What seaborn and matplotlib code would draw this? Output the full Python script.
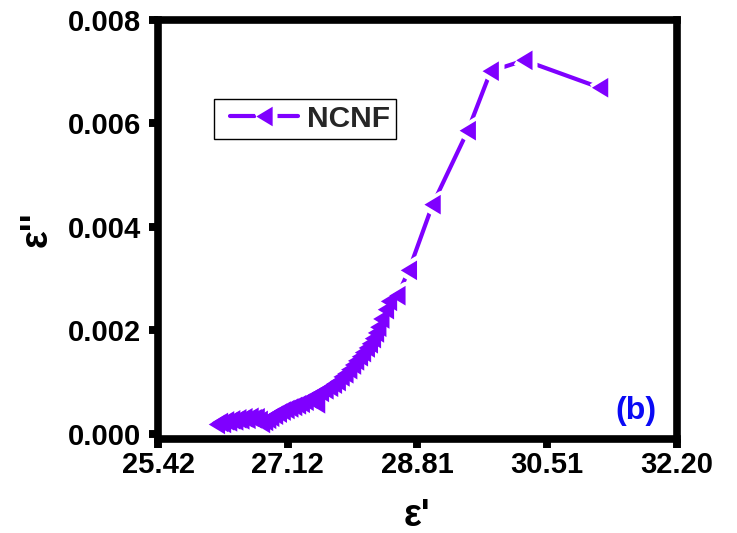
import numpy as np
import pandas as pd
import matplotlib
matplotlib.use("Agg")
import matplotlib.pyplot as plt
from matplotlib.lines import Line2D
from matplotlib.markers import MarkerStyle
from matplotlib.legend_handler import HandlerTuple, HandlerLine2D
import seaborn as sns

# Dielectric loss plot: imaginary part (eps'') against real part (eps') for NCNF
eps_real = [
    26.19, 26.23, 26.27, 26.31, 26.35, 26.39, 26.43, 26.47, 26.51, 26.55,
    26.59, 26.63, 26.67, 26.71, 26.75, 26.78, 26.82, 26.86, 26.90, 26.95,
    27.00, 27.05, 27.10, 27.15, 27.20, 27.25, 27.30, 27.35, 27.40, 27.45,
    27.50, 27.55, 27.61, 27.67, 27.72, 27.77, 27.82, 27.87, 27.92, 27.97,
    28.01, 28.06, 28.10, 28.15, 28.19, 28.23, 28.27, 28.30, 28.34, 28.40,
    28.44, 28.55, 28.70, 29.01, 29.47, 29.77, 30.21, 31.20,
]
eps_imag = [
    0.00018, 0.00022, 0.00020, 0.00025, 0.00023, 0.00027, 0.00025, 0.00029, 0.00027, 0.00031,
    0.00028, 0.00032, 0.00029, 0.00031, 0.00026, 0.00020, 0.00024, 0.00028, 0.00032, 0.00036,
    0.00040, 0.00044, 0.00047, 0.00050, 0.00053, 0.00056, 0.00059, 0.00063, 0.00067, 0.00071,
    0.00058, 0.00080, 0.00085, 0.00090, 0.00096, 0.00101, 0.00110, 0.00116, 0.00124, 0.00133,
    0.00141, 0.00149, 0.00157, 0.00166, 0.00174, 0.00184, 0.00195, 0.00206, 0.00222, 0.00240,
    0.00256, 0.00267, 0.00316, 0.00443, 0.00586, 0.00701, 0.00722, 0.00669,
]
series_name = "NCNF"
panel_tag = "(b)"

x_ticks = [25.42, 27.115, 28.81, 30.505, 32.20]
x_tick_labels = ["25.42", "27.12", "28.81", "30.51", "32.20"]
y_ticks = [0.000, 0.002, 0.004, 0.006, 0.008]
y_tick_labels = ["0.000", "0.002", "0.004", "0.006", "0.008"]

df = pd.DataFrame({"eps_real": eps_real, "eps_imag": eps_imag})

PURPLE = "#7F00FF"
TAG_BLUE = "#0A0AF5"

sns.set_theme(style="white")
plt.rcParams["font.family"] = ["Liberation Sans", "DejaVu Sans"]
plt.rcParams["font.weight"] = "bold"

fig = plt.figure(figsize=(7.37, 5.33), dpi=100)
ax = fig.add_axes([0.2144, 0.1764, 0.7036, 0.7861])

# left-pointing triangle, a little taller than wide
tri = MarkerStyle([(-0.83, 0.0), (0.83, 1.0), (0.83, -1.0), (-0.83, 0.0)])
marker_area = 200
line_w = 3.0
halo_w = 7.0

# connecting line
sns.lineplot(data=df, x="eps_real", y="eps_imag", sort=False, estimator=None,
             color=PURPLE, linewidth=line_w, ax=ax, zorder=2)
# white halo that opens a small gap in the line around each symbol
sns.scatterplot(data=df, x="eps_real", y="eps_imag", marker=tri, s=marker_area,
                color="white", edgecolor="white", linewidth=halo_w, ax=ax, zorder=3)
# the symbols
sns.scatterplot(data=df, x="eps_real", y="eps_imag", marker=tri, s=marker_area,
                color=PURPLE, edgecolor="none", linewidth=0, ax=ax, zorder=4)

ax.set_xlim(25.42, 32.20)
ax.set_ylim(-0.0001, 0.008)
ax.set_xticks(x_ticks, x_tick_labels)
ax.set_yticks(y_ticks, y_tick_labels)

for side in ["left", "right", "top", "bottom"]:
    ax.spines[side].set_visible(True)
    ax.spines[side].set_color("black")
    ax.spines[side].set_linewidth(5.5)
    ax.spines[side].set_zorder(10)

ax.tick_params(axis="both", which="major", direction="out", length=6.5, width=5.7,
               color="black", labelsize=21, labelcolor="black")
ax.tick_params(axis="x", pad=2.5, bottom=True, top=False)
ax.tick_params(axis="y", pad=5.5, left=True, right=False)
for lbl in ax.get_xticklabels() + ax.get_yticklabels():
    lbl.set_fontweight("bold")

ax.set_xlabel("ε'", fontsize=27, fontweight="bold", color="black")
ax.set_ylabel("ε''", fontsize=27, fontweight="bold", color="black")
ax.xaxis.set_label_coords(0.5, -0.14)
ax.yaxis.set_label_coords(-0.2, 0.5)

ax.text(0.922, 0.066, panel_tag, transform=ax.transAxes, ha="center", va="center",
        fontsize=23, fontweight="bold", color=TAG_BLUE)


class LeadLine(HandlerLine2D):
    """Line handler that leaves some room before the handle."""

    def __init__(self, lead, **kw):
        super().__init__(**kw)
        self.lead = lead

    def create_artists(self, legend, orig_handle, xdescent, ydescent, width,
                       height, fontsize, trans):
        shift = self.lead * fontsize
        return super().create_artists(legend, orig_handle, xdescent - shift, ydescent,
                                      width - shift, height, fontsize, trans)


h_line = Line2D([], [], color=PURPLE, linewidth=line_w)
h_halo = Line2D([], [], linestyle="none", marker=tri, markersize=np.sqrt(marker_area),
                markerfacecolor="white", markeredgecolor="white", markeredgewidth=halo_w)
h_mark = Line2D([], [], linestyle="none", marker=tri, markersize=np.sqrt(marker_area),
                markerfacecolor=PURPLE, markeredgecolor="none", markeredgewidth=0)

leg = ax.legend(handles=[(h_line, h_halo, h_mark)], labels=[series_name],
                handler_map={tuple: HandlerTuple(ndivide=1), Line2D: LeadLine(0.35)},
                loc="upper left", bbox_to_anchor=(0.108, 0.8115), borderaxespad=0,
                numpoints=1, handlelength=2.62, handletextpad=0.3,
                borderpad=0.2, frameon=True, fancybox=False, framealpha=1,
                edgecolor="black", prop={"weight": "bold", "size": 21.5})
leg.get_frame().set_linewidth(1.0)
leg.set_zorder(12)

fig.savefig("out.png", dpi=100, facecolor="white")
